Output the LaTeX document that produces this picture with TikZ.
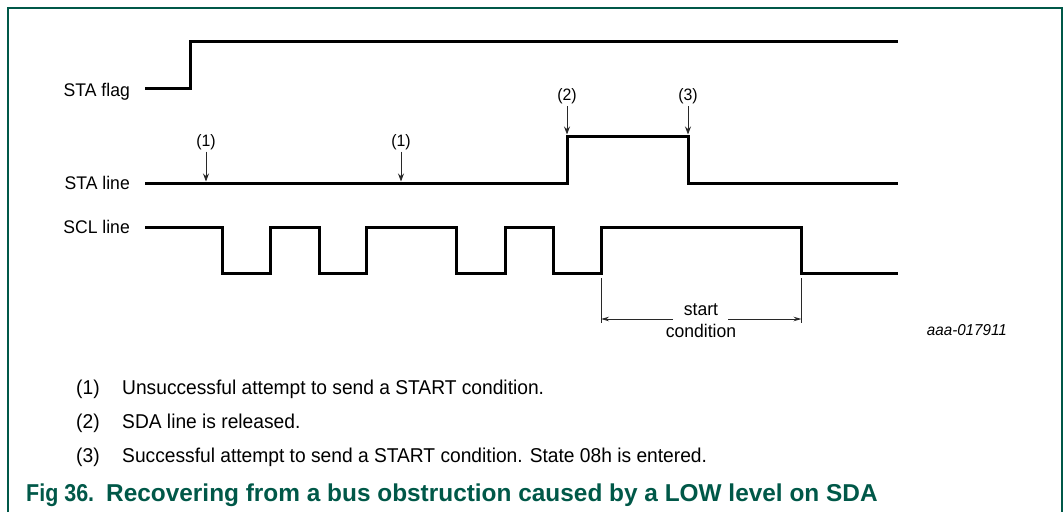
\documentclass[tikz,border=0pt]{standalone}
\usepackage{fontspec}
\setmainfont{Liberation Sans}
\newfontfamily\labf[FakeStretch=0.96]{Liberation Sans}
\newfontfamily\capf{Liberation Sans}
\newfontfamily\capn[FakeStretch=0.88]{Liberation Sans}
\usetikzlibrary{arrows.meta}
\definecolor{nxpgreen}{RGB}{0,88,72}
\definecolor{arrgray}{RGB}{40,40,40}
\begin{document}
\begin{tikzpicture}[x=1pt,y=-1pt,
  frame/.style={draw=nxpgreen,line width=1.3pt},
  signal/.style={line width=3pt,line join=miter},
  lab/.style={font=\labf\fontsize{18.3}{20}\selectfont,inner sep=0pt},
  num/.style={font=\labf\fontsize{16.5}{18}\selectfont,inner sep=0pt},
  body/.style={font=\labf\fontsize{20}{22}\selectfont,inner sep=0pt},
  capt/.style={font=\capf\bfseries\fontsize{24.4}{27}\selectfont,text=nxpgreen,inner sep=0pt},
  captn/.style={font=\capn\bfseries\fontsize{24.4}{27}\selectfont,text=nxpgreen,inner sep=0pt},
  code/.style={font=\labf\itshape\fontsize{15.8}{17}\selectfont,inner sep=0pt},
  pointer/.style={draw=arrgray,line width=0.9pt,-{Stealth[length=8pt,width=6pt]}},
  dimline/.style={draw=arrgray,line width=0.9pt},
  dimarrow/.style={draw=arrgray,line width=0.9pt,-{Stealth[length=8pt,width=4.5pt]}}
]
\useasboundingbox (0,0) rectangle (1063,512);
% frame
\draw[frame] (8,512) -- (8,8) -- (1062,8) -- (1062,512);

% signal labels
\node[lab,anchor=base east] (lflag) at (130,96) {STA flag};
\node[lab,anchor=base east] (lsta) at (130,189) {STA line};
\node[lab,anchor=base east] (lscl) at (130,233) {SCL line};

% waveforms
\draw[signal] (145,88) -- (190,88) -- (190,41.5) -- (897.5,41.5);
\draw[signal] (145,183) -- (567,183) -- (567,136) -- (688,136) -- (688,183) -- (897.5,183);
\draw[signal] (145,227) -- (222.5,227) -- (222.5,273.5) -- (270,273.5) -- (270,227)
  -- (319,227) -- (319,273.5) -- (366.5,273.5) -- (366.5,227) -- (456,227)
  -- (456,273.5) -- (505,273.5) -- (505,227) -- (553,227) -- (553,273.5)
  -- (601,273.5) -- (601,227) -- (801.5,227) -- (801.5,273.5) -- (897.5,273.5);

% event markers
\node[num,anchor=base] (n1a) at (206,146) {(1)};
\node[num,anchor=base] (n1b) at (401,146) {(1)};
\node[num,anchor=base] (n2) at (567,100.5) {(2)};
\node[num,anchor=base] (n3) at (688,100.5) {(3)};
\coordinate (t1a) at (206,181.5);
\coordinate (t1b) at (401,181.5);
\coordinate (t2) at (567,134.5);
\coordinate (t3) at (688,134.5);
\draw[pointer] ([yshift=-2pt]n1a.south) -- (t1a);
\draw[pointer] ([yshift=-2pt]n1b.south) -- (t1b);
\draw[pointer] ([yshift=-2pt]n2.south) -- (t2);
\draw[pointer] ([yshift=-2pt]n3.south) -- (t3);

% start condition dimension
\coordinate (dlt) at (601,278);
\coordinate (dlb) at (601,323);
\coordinate (drt) at (801.5,278);
\coordinate (drb) at (801.5,323);
\draw[dimline] (dlt) -- (dlb);
\draw[dimline] (drt) -- (drb);
\node[lab,anchor=base] (sc1) at (701,315) {start};
\node[lab,anchor=base] (sc2) at (701,337) {condition};
\coordinate (dl) at (601,319);
\coordinate (dr) at (801.5,319);
\coordinate (gl) at (673,319);
\coordinate (gr) at (728,319);
\draw[dimarrow] (gl) -- (dl);
\draw[dimarrow] (gr) -- (dr);

\node[code,anchor=base east] (code) at (1007,335) {aaa-017911};

% notes
\node[body,anchor=base west] (k1) at (76,394) {(1)};
\node[body,anchor=base west] (t1) at (122,394) {Unsuccessful attempt to send a START condition.};
\node[body,anchor=base west] (k2) at (76,428) {(2)};
\node[body,anchor=base west] (tt2) at (122,428) {SDA line is released.};
\node[body,anchor=base west] (k3) at (76,462) {(3)};
\node[body,anchor=base west] (tt3) at (122,462) {Successful attempt to send a START condition. State 08h is entered.};

% caption
\node[captn,anchor=base west] (fig) at (26,501) {Fig 36.};
\node[capt,anchor=base west] (figt) at (106,501) {Recovering from a bus obstruction caused by a LOW level on SDA};
\end{tikzpicture}
\end{document}
